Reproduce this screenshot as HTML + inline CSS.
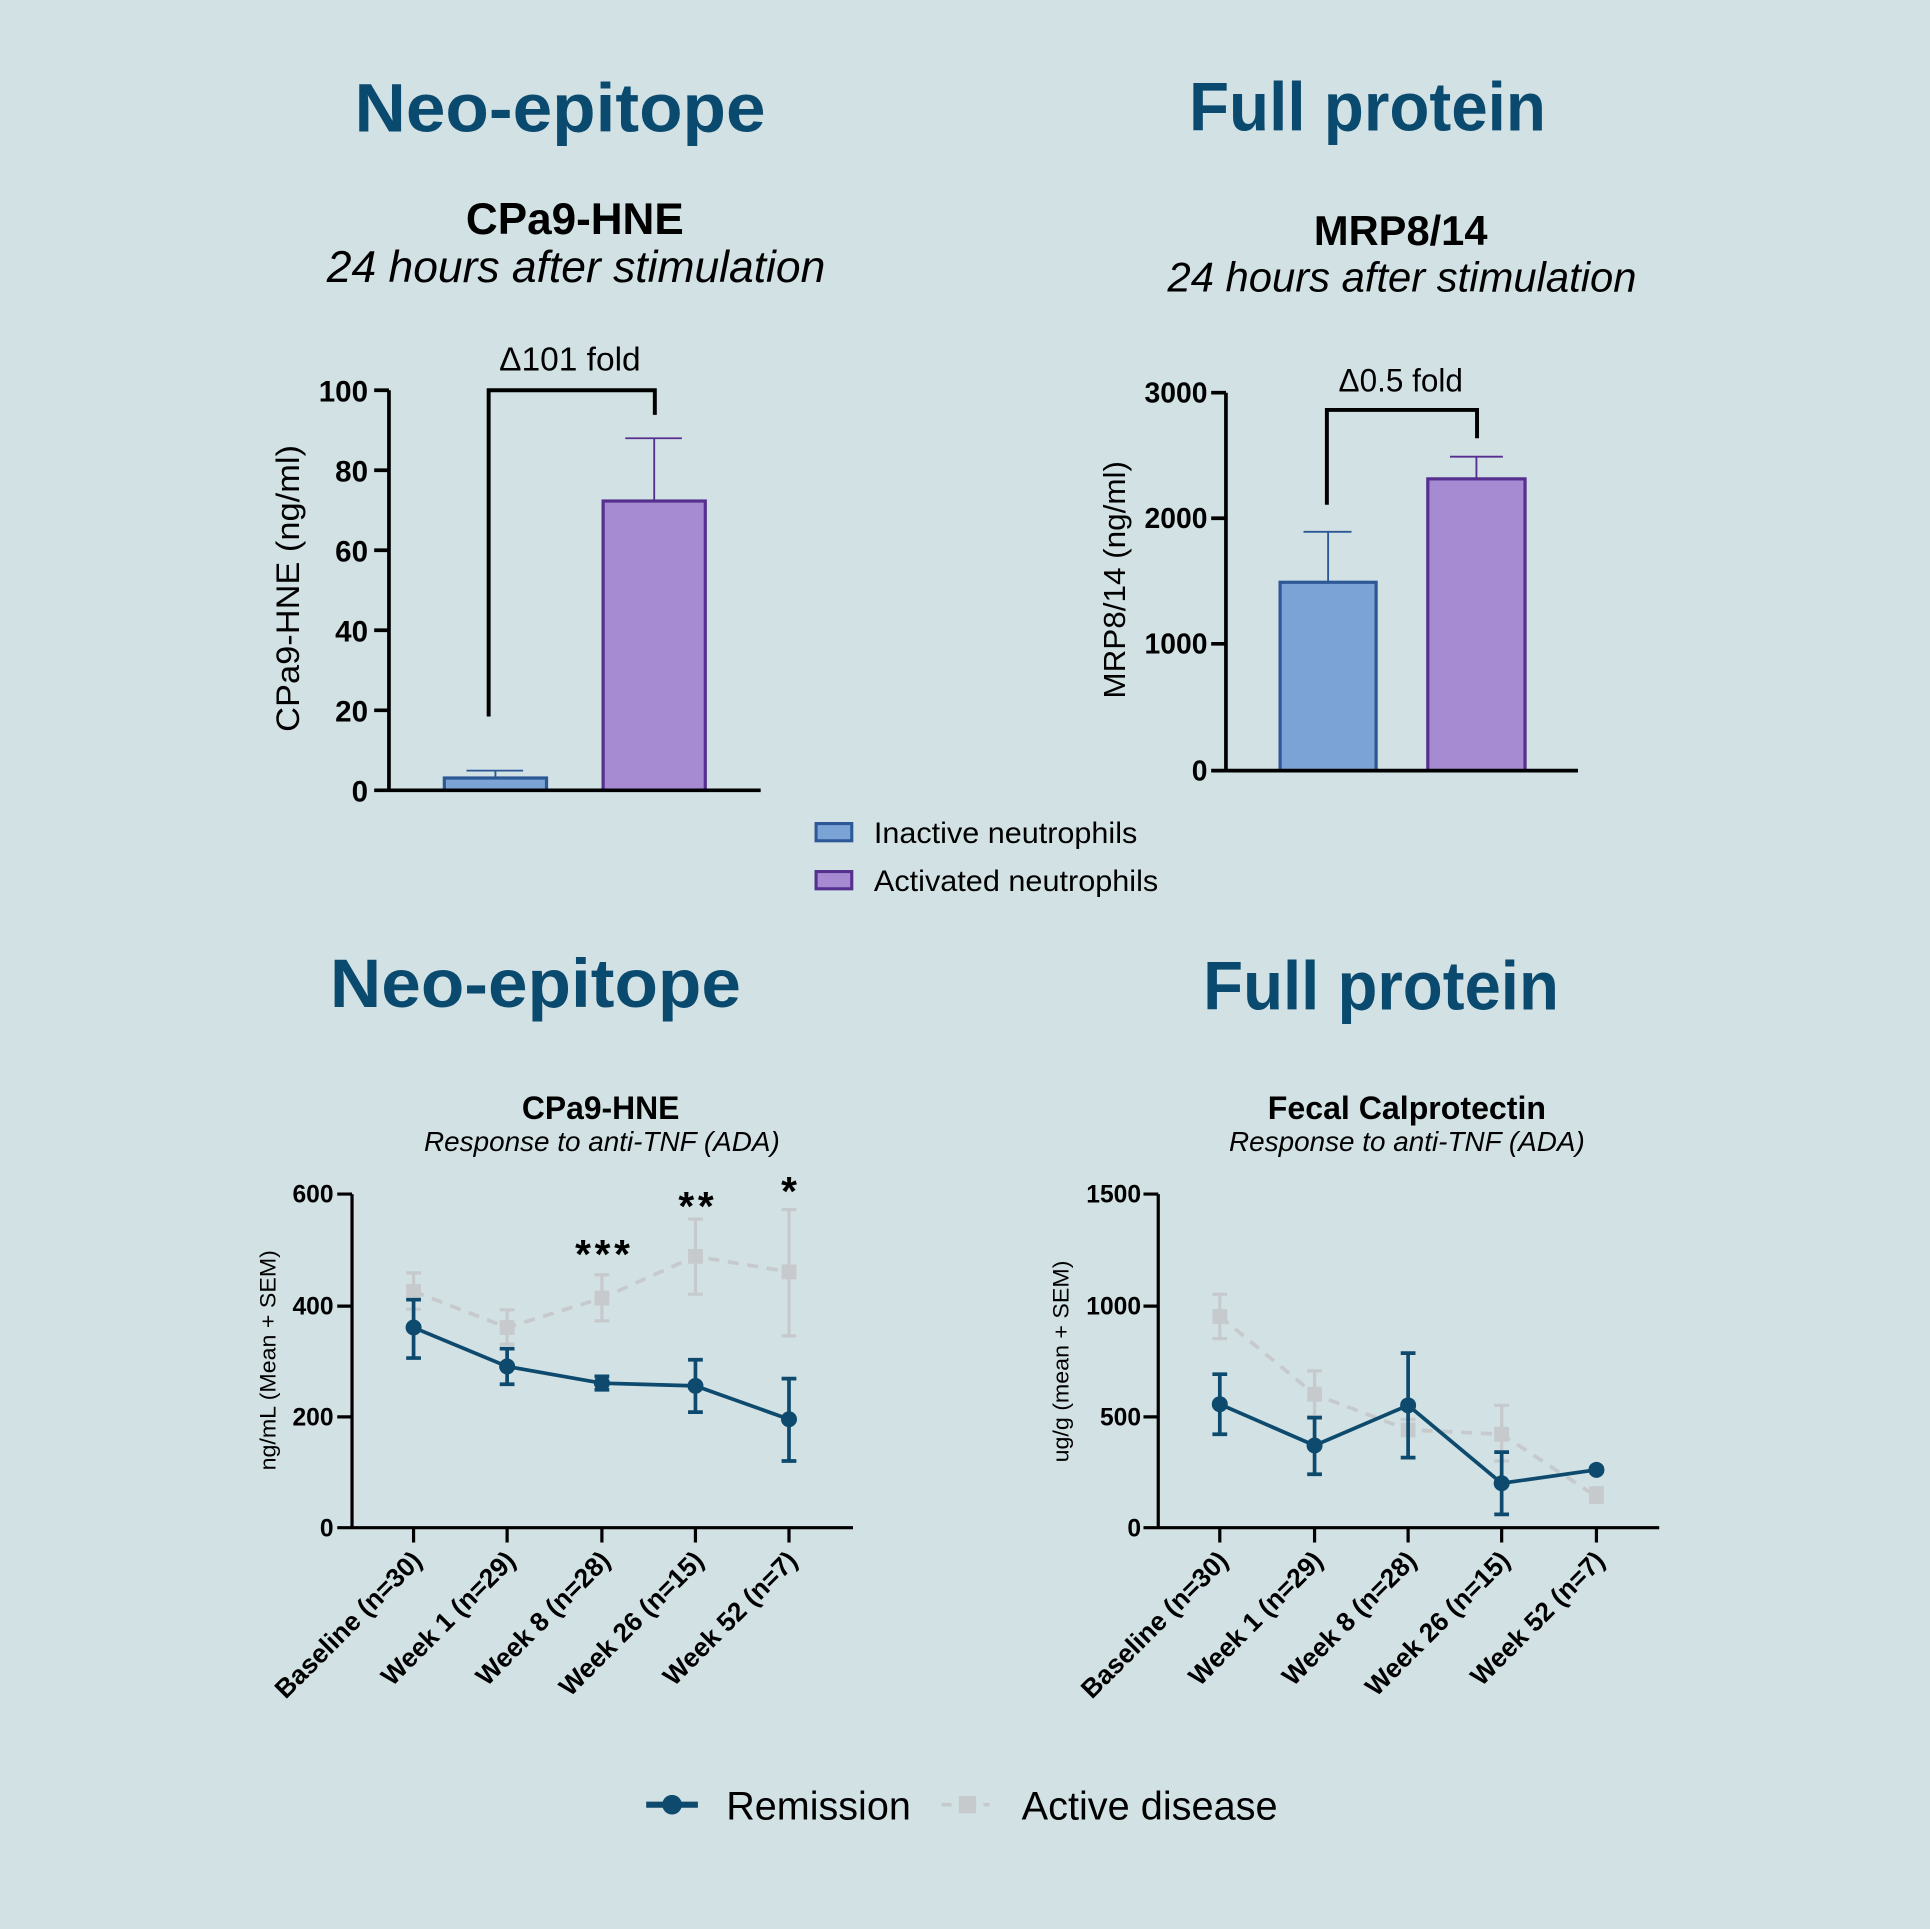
<!DOCTYPE html>
<html><head><meta charset="utf-8"><style>
html,body{margin:0;padding:0;background:#d2e1e4;}
svg{display:block;}
text{font-family:"Liberation Sans",Arial,sans-serif;}
</style></head><body>
<svg width="1930" height="1929" viewBox="0 0 1568 1567" preserveAspectRatio="none" xmlns="http://www.w3.org/2000/svg">
<rect width="1568" height="1567" fill="#d2e1e4"/>

<!-- Big headers -->
<g fill="#0b4a6f" font-weight="bold" font-size="56">
<text x="455" y="107" text-anchor="middle" textLength="334" lengthAdjust="spacingAndGlyphs">Neo-epitope</text>
<text x="1111" y="106" text-anchor="middle" textLength="290" lengthAdjust="spacingAndGlyphs">Full protein</text>
<text x="435" y="818" text-anchor="middle" textLength="334" lengthAdjust="spacingAndGlyphs">Neo-epitope</text>
<text x="1122" y="820" text-anchor="middle" textLength="289" lengthAdjust="spacingAndGlyphs">Full protein</text>
</g>

<!-- ===== Chart 1: CPa9-HNE bar ===== -->
<text x="467" y="190" text-anchor="middle" font-weight="bold" font-size="36" textLength="177" lengthAdjust="spacingAndGlyphs">CPa9-HNE</text>
<text x="468" y="229" text-anchor="middle" font-style="italic" font-size="36" textLength="405" lengthAdjust="spacingAndGlyphs">24 hours after stimulation</text>
<text x="463" y="301" text-anchor="middle" font-size="27" textLength="115" lengthAdjust="spacingAndGlyphs">Δ101 fold</text>
<path d="M397 582 V317 H532 V337" fill="none" stroke="#000" stroke-width="3.2"/>
<!-- bars -->
<rect x="361" y="632" width="83" height="10" fill="#7ca3d5" stroke="#2d5896" stroke-width="2.6"/>
<path d="M402.5 632 V626 M379 626 H425" stroke="#2d5896" stroke-width="1.5" fill="none"/>
<rect x="490" y="407" width="83" height="235" fill="#a68bd3" stroke="#55308f" stroke-width="2.6"/>
<path d="M531.5 407 V356 M508 356 H554" stroke="#55308f" stroke-width="1.5" fill="none"/>
<!-- axes -->
<path d="M316 317 V642 M304 642 H618 M304 317 H316 M304 382 H316 M304 447 H316 M304 512 H316 M304 577 H316" stroke="#000" stroke-width="3" fill="none"/>
<g font-weight="bold" font-size="24" text-anchor="end">
<text x="299" y="326">100</text><text x="299" y="391">80</text><text x="299" y="456">60</text>
<text x="299" y="521">40</text><text x="299" y="586">20</text><text x="299" y="651">0</text>
</g>
<text transform="translate(234,478) rotate(-90)" text-anchor="middle" dy="9" font-size="26" textLength="233" lengthAdjust="spacingAndGlyphs">CPa9-HNE   (ng/ml)</text>

<!-- ===== Chart 2: MRP8/14 bar ===== -->
<text x="1138" y="199" text-anchor="middle" font-weight="bold" font-size="34" textLength="141" lengthAdjust="spacingAndGlyphs">MRP8/14</text>
<text x="1139" y="237" text-anchor="middle" font-style="italic" font-size="34" textLength="381" lengthAdjust="spacingAndGlyphs">24 hours after stimulation</text>
<text x="1138" y="318" text-anchor="middle" font-size="26" textLength="101" lengthAdjust="spacingAndGlyphs">Δ0.5 fold</text>
<path d="M1078 410 V333 H1200 V356" fill="none" stroke="#000" stroke-width="3.2"/>
<rect x="1040" y="473" width="78" height="153" fill="#7ca3d5" stroke="#2d5896" stroke-width="2.6"/>
<path d="M1079 473 V432 M1059 432 H1098" stroke="#2d5896" stroke-width="1.5" fill="none"/>
<rect x="1160" y="389" width="79" height="237" fill="#a68bd3" stroke="#55308f" stroke-width="2.6"/>
<path d="M1199.5 389 V371 M1178 371 H1221" stroke="#55308f" stroke-width="1.5" fill="none"/>
<path d="M996 319 V626 M984 626 H1282 M984 319 H996 M984 421 H996 M984 523 H996" stroke="#000" stroke-width="3" fill="none"/>
<g font-weight="bold" font-size="23" text-anchor="end">
<text x="981" y="327">3000</text><text x="981" y="429">2000</text><text x="981" y="531">1000</text><text x="981" y="634">0</text>
</g>
<text transform="translate(905,471) rotate(-90)" text-anchor="middle" dy="9" font-size="25" textLength="193" lengthAdjust="spacingAndGlyphs">MRP8/14 (ng/ml)</text>

<!-- Bar legend -->
<rect x="663" y="669" width="29" height="14" fill="#7ca3d5" stroke="#2d5896" stroke-width="2.5"/>
<rect x="663" y="708" width="29" height="14" fill="#a68bd3" stroke="#55308f" stroke-width="2.5"/>
<text x="710" y="685" font-size="24" textLength="214" lengthAdjust="spacingAndGlyphs">Inactive neutrophils</text>
<text x="710" y="724" font-size="24" textLength="231" lengthAdjust="spacingAndGlyphs">Activated neutrophils</text>

<!-- ===== Line chart 1 ===== -->
<text x="488" y="909" text-anchor="middle" font-weight="bold" font-size="26" textLength="128" lengthAdjust="spacingAndGlyphs">CPa9-HNE</text>
<text x="489" y="935" text-anchor="middle" font-style="italic" font-size="22.5" textLength="289" lengthAdjust="spacingAndGlyphs">Response to anti-TNF (ADA)</text>
<!-- active (gray) -->
<g stroke="#c6cacd" fill="none">
<polyline points="336,1049 412,1078.4 489,1054.5 565,1020.6 641,1033.2" stroke-width="3" stroke-dasharray="9,7"/>
<path d="M336 1034 V1063.5 M330 1034 H342 M330 1063.5 H342
M412 1064 V1092 M406 1064 H418 M406 1092 H418
M489 1035.5 V1073 M483 1035.5 H495 M483 1073 H495
M565 990.3 V1051.3 M559 990.3 H571 M559 1051.3 H571
M641 982.6 V1085.2 M635 982.6 H647 M635 1085.2 H647" stroke-width="2.6"/>
</g>
<g fill="#c6cacd">
<rect x="330" y="1043" width="12" height="12"/><rect x="406" y="1072.4" width="12" height="12"/>
<rect x="483" y="1048.5" width="12" height="12"/><rect x="559" y="1014.6" width="12" height="12"/>
<rect x="635" y="1027.2" width="12" height="12"/>
</g>
<!-- remission -->
<g stroke="#0d4a6e" fill="none" stroke-width="3">
<polyline points="336,1078.4 412,1110 489,1123.6 565,1125.8 641,1152.9"/>
<path d="M336 1055.8 V1103.2 M330 1055.8 H342 M330 1103.2 H342
M412 1095.6 V1124.5 M406 1095.6 H418 M406 1124.5 H418
M489 1118.1 V1129 M483 1118.1 H495 M483 1129 H495
M565 1104.6 V1147.1 M559 1104.6 H571 M559 1147.1 H571
M641 1119.9 V1186.8 M635 1119.9 H647 M635 1186.8 H647"/>
</g>
<g fill="#0d4a6e">
<circle cx="336" cy="1078.4" r="6.5"/><circle cx="412" cy="1110" r="6.5"/><circle cx="489" cy="1123.6" r="6.5"/>
<circle cx="565" cy="1125.8" r="6.5"/><circle cx="641" cy="1152.9" r="6.5"/>
</g>
<g font-size="33" font-weight="bold" text-anchor="middle">
<text x="491" y="1030" letter-spacing="3">***</text>
<text x="567" y="991" letter-spacing="3">**</text>
<text x="641" y="979">*</text>
</g>
<!-- axes -->
<path d="M286 970 V1241 M274 1241 H693 M274 970 H286 M274 1061 H286 M274 1151 H286
M336 1241 V1253 M412 1241 V1253 M489 1241 V1253 M565 1241 V1253 M641 1241 V1253" stroke="#000" stroke-width="2.6" fill="none"/>
<g font-weight="bold" font-size="20" text-anchor="end">
<text x="271" y="977">600</text><text x="271" y="1068">400</text><text x="271" y="1158">200</text><text x="271" y="1248">0</text>
</g>
<text transform="translate(218,1105) rotate(-90)" text-anchor="middle" dy="6" font-size="18" textLength="179" lengthAdjust="spacingAndGlyphs">ng/mL (Mean + SEM)</text>
<g font-weight="bold" font-size="21.5" text-anchor="end">
<text transform="translate(344,1269) rotate(-45)">Baseline (n=30)</text>
<text transform="translate(420,1269) rotate(-45)">Week 1 (n=29)</text>
<text transform="translate(497,1269) rotate(-45)">Week 8 (n=28)</text>
<text transform="translate(573,1269) rotate(-45)">Week 26 (n=15)</text>
<text transform="translate(649,1269) rotate(-45)">Week 52 (n=7)</text>
</g>

<!-- ===== Line chart 2 ===== -->
<text x="1143" y="909" text-anchor="middle" font-weight="bold" font-size="26" textLength="226" lengthAdjust="spacingAndGlyphs">Fecal Calprotectin</text>
<text x="1143" y="935" text-anchor="middle" font-style="italic" font-size="22.5" textLength="289" lengthAdjust="spacingAndGlyphs">Response to anti-TNF (ADA)</text>
<g stroke="#c6cacd" fill="none">
<polyline points="991,1069.4 1068,1132.6 1144,1161.5 1220,1165.1 1297,1215.7" stroke-width="3" stroke-dasharray="9,7"/>
<path d="M991 1051.3 V1087.4 M985 1051.3 H997 M985 1087.4 H997
M1068 1113.6 V1150.7 M1062 1113.6 H1074 M1062 1150.7 H1074
M1144 1153 V1170 M1138 1153 H1150
M1220 1141.6 V1186.8 M1214 1141.6 H1226 M1214 1186.8 H1226
M1297 1208.5 V1221 M1291 1208.5 H1303" stroke-width="2.6"/>
</g>
<g fill="#c6cacd">
<rect x="985" y="1063.4" width="12" height="12"/><rect x="1062" y="1126.6" width="12" height="12"/>
<rect x="1138" y="1155.5" width="12" height="12"/><rect x="1214" y="1159.1" width="12" height="12"/>
<rect x="1291" y="1209.7" width="12" height="12"/>
</g>
<g stroke="#0d4a6e" fill="none" stroke-width="3">
<polyline points="991,1140.7 1068,1174.2 1144,1141.6 1220,1204.9 1297,1194"/>
<path d="M991 1116.3 V1165.1 M985 1116.3 H997 M985 1165.1 H997
M1068 1151.6 V1197.6 M1062 1151.6 H1074 M1062 1197.6 H1074
M1144 1099.2 V1184.1 M1138 1099.2 H1150 M1138 1184.1 H1150
M1220 1179.6 V1230.2 M1214 1179.6 H1226 M1214 1230.2 H1226"/>
</g>
<g fill="#0d4a6e">
<circle cx="991" cy="1140.7" r="6.5"/><circle cx="1068" cy="1174.2" r="6.5"/><circle cx="1144" cy="1141.6" r="6.5"/>
<circle cx="1220" cy="1204.9" r="6.5"/><circle cx="1297" cy="1194" r="6.5"/>
</g>
<path d="M941 970 V1241 M929 1241 H1348 M929 970 H941 M929 1061 H941 M929 1151 H941
M991 1241 V1253 M1068 1241 V1253 M1144 1241 V1253 M1220 1241 V1253 M1297 1241 V1253" stroke="#000" stroke-width="2.6" fill="none"/>
<g font-weight="bold" font-size="20" text-anchor="end">
<text x="927" y="977">1500</text><text x="927" y="1068">1000</text><text x="927" y="1158">500</text><text x="927" y="1248">0</text>
</g>
<text transform="translate(862,1106) rotate(-90)" text-anchor="middle" dy="6" font-size="18" textLength="164" lengthAdjust="spacingAndGlyphs">ug/g (mean + SEM)</text>
<g font-weight="bold" font-size="21.5" text-anchor="end">
<text transform="translate(999,1269) rotate(-45)">Baseline (n=30)</text>
<text transform="translate(1076,1269) rotate(-45)">Week 1 (n=29)</text>
<text transform="translate(1152,1269) rotate(-45)">Week 8 (n=28)</text>
<text transform="translate(1228,1269) rotate(-45)">Week 26 (n=15)</text>
<text transform="translate(1305,1269) rotate(-45)">Week 52 (n=7)</text>
</g>

<!-- Bottom legend -->
<path d="M525 1466 H567" stroke="#0d4a6e" stroke-width="5"/>
<circle cx="546" cy="1466" r="8" fill="#0d4a6e"/>
<text x="590" y="1478" font-size="32" textLength="150" lengthAdjust="spacingAndGlyphs">Remission</text>
<path d="M765 1466 H773 M799 1466 H804" stroke="#c6cacd" stroke-width="3"/>
<rect x="779" y="1459" width="14" height="14" fill="#c6cacd"/>
<text x="830" y="1478" font-size="32" textLength="208" lengthAdjust="spacingAndGlyphs">Active disease</text>
</svg>
</body></html>
